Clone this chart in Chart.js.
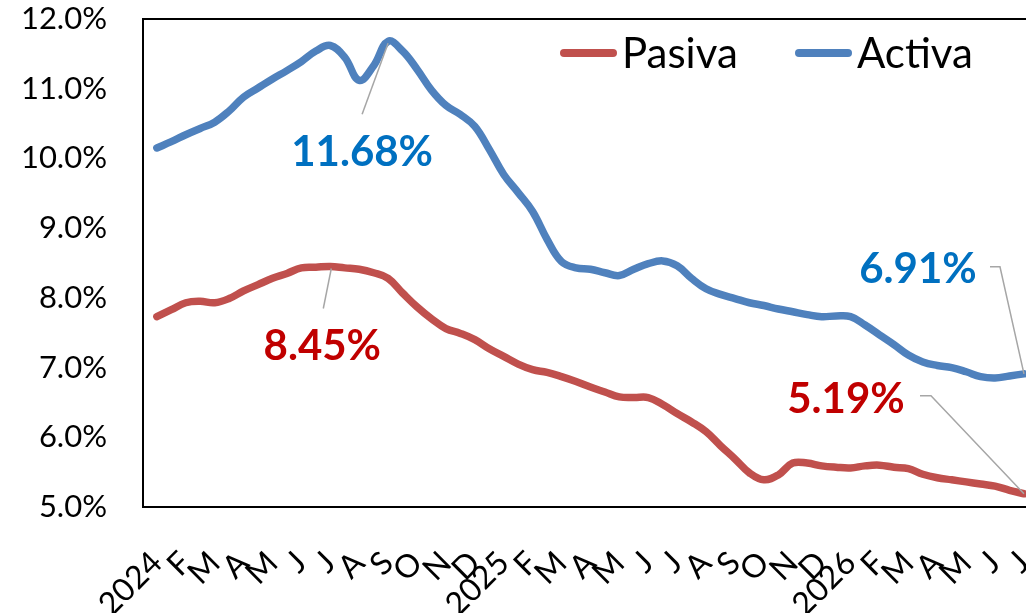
<!DOCTYPE html>
<html>
<head>
<meta charset="utf-8">
<script src="https://cdn.jsdelivr.net/npm/chart.js@4/dist/chart.umd.min.js"></script>
<style>
  html, body { margin: 0; padding: 0; background: #fff; }
  #wrap { width: 1026px; height: 613px; position: relative; overflow: hidden; }
</style>
</head>
<body>
<div id="wrap"><canvas id="tasasChart"></canvas></div>
<script>
// Etiquetas del eje X (una por mes)
const meses = [
  "2024", "F", "M", "A", "M", "J", "J", "A", "S", "O", "N", "D",
  "2025", "F", "M", "A", "M", "J", "J", "A", "S", "O", "N", "D",
  "2026", "F", "M", "A", "M", "J", "J",
];

// Tasas quincenales (%)
const pasiva = [
  7.73, 7.83, 7.93, 7.95, 7.93, 7.99, 8.1, 8.19, 8.28, 8.35, 8.43, 8.44,
  8.45, 8.43, 8.41, 8.36, 8.28, 8.07, 7.87, 7.7, 7.56, 7.49, 7.4, 7.27,
  7.16, 7.05, 6.97, 6.93, 6.87, 6.8, 6.72, 6.65, 6.58, 6.57, 6.57, 6.47,
  6.34, 6.22, 6.08, 5.88, 5.69, 5.49, 5.39, 5.46, 5.63, 5.63, 5.59, 5.57,
  5.56, 5.59, 5.6, 5.57, 5.55, 5.47, 5.42, 5.39, 5.36, 5.33, 5.3, 5.24,
  5.19,
];
const activa = [
  10.15, 10.24, 10.34, 10.43, 10.52, 10.68, 10.88, 11.01, 11.14, 11.26,
  11.39, 11.54, 11.62, 11.45, 11.12, 11.33, 11.68, 11.54, 11.28, 10.98,
  10.76, 10.63, 10.46, 10.13, 9.77, 9.51, 9.24, 8.84, 8.52, 8.43, 8.41,
  8.36, 8.32, 8.41, 8.49, 8.53, 8.46, 8.28, 8.13, 8.05, 7.99, 7.93, 7.89,
  7.84, 7.8, 7.76, 7.73, 7.74, 7.73, 7.61, 7.47, 7.33, 7.18, 7.08, 7.03,
  7.0, 6.94, 6.87, 6.85, 6.88, 6.91,
];

const ROJO = "#C0504D";
const AZUL = "#4F81BD";
const FUENTE = "Lato, 'Open Sans', sans-serif";

// cada dato es quincenal: el punto i cae en el mes i/2
const aPuntos = (serie) => serie.map((v, i) => ({ x: i / 2, y: v }));

// etiquetas de valor con su linea guia (desplazamientos respecto al punto)
const etiquetas = [
  { serie: 1, idx: 16, color: "#0070C0", dx: -26, dy: 111, guia: [[-26, 73], [0, 2]] },
  { serie: 0, idx: 12, color: "#C00000", dx: -8, dy: 80, guia: [[-7, 42], [1, 2]] },
  { serie: 1, idx: 60, color: "#0070C0", dx: -106, dy: -104, guia: [[-34, -107], [-24, -107], [0, 0]] },
  { serie: 0, idx: 60, color: "#C00000", dx: -178, dy: -94, guia: [[-104, -98], [-93, -98], [0, 0]] },
];

const extrasPlugin = {
  id: "extras",
  afterDraw(chart) {
    const { ctx, chartArea } = chart;
    ctx.save();

    // linea superior del marco
    ctx.strokeStyle = "#000";
    ctx.lineWidth = 2;
    ctx.beginPath();
    ctx.moveTo(chartArea.left - 1, chartArea.top);
    ctx.lineTo(chartArea.right + 2, chartArea.top);
    ctx.stroke();

    // leyenda
    const leyX = [560, 795];
    ctx.font = "42px " + FUENTE;
    ctx.textAlign = "left";
    ctx.textBaseline = "alphabetic";
    chart.data.datasets.forEach((ds, i) => {
      const x = leyX[i];
      const y = chartArea.top + 34;
      ctx.strokeStyle = ds.borderColor;
      ctx.lineWidth = 8;
      ctx.lineCap = "round";
      ctx.beginPath();
      ctx.moveTo(x + 4, y);
      ctx.lineTo(x + 53, y);
      ctx.stroke();
      ctx.fillStyle = "#000";
      ctx.fillText(ds.label, x + 62, y + 15);
    });

    // etiquetas de datos
    etiquetas.forEach((e) => {
      const pt = chart.getDatasetMeta(e.serie).data[e.idx];
      const valor = chart.data.datasets[e.serie].data[e.idx].y;
      ctx.strokeStyle = "#A6A6A6";
      ctx.lineWidth = 1.5;
      ctx.lineCap = "butt";
      ctx.beginPath();
      e.guia.forEach(([gx, gy], k) => {
        if (k === 0) ctx.moveTo(pt.x + gx, pt.y + gy);
        else ctx.lineTo(pt.x + gx, pt.y + gy);
      });
      ctx.stroke();
      ctx.font = "bold 42px " + FUENTE;
      ctx.fillStyle = e.color;
      ctx.textAlign = "center";
      ctx.textBaseline = "middle";
      ctx.fillText(valor.toFixed(2) + "%", pt.x + e.dx, pt.y + e.dy);
    });

    ctx.restore();
  },
};

const ctx = document.getElementById("tasasChart").getContext("2d");
const tasasChart = new Chart(ctx, {
  type: "line",
  data: {
    datasets: [
      {
        label: "Pasiva",
        data: aPuntos(pasiva),
        borderColor: ROJO,
        borderWidth: 7.5,
        tension: 0.4,
        borderCapStyle: "round",
        borderJoinStyle: "round",
        pointRadius: 0,
      },
      {
        label: "Activa",
        data: aPuntos(activa),
        borderColor: AZUL,
        borderWidth: 7.5,
        tension: 0.4,
        borderCapStyle: "round",
        borderJoinStyle: "round",
        pointRadius: 0,
      },
    ],
  },
  options: {
    responsive: true,
    maintainAspectRatio: false,
    animation: false,
    events: [],
    layout: { padding: { top: 19, left: 0, right: 0, bottom: 0 } },
    plugins: {
      legend: { display: false },
      tooltip: { enabled: false },
    },
    scales: {
      x: {
        type: "linear",
        min: -0.48,
        max: 30.07,
        grid: { display: false, drawTicks: false },
        border: { display: true, color: "#000", width: 2 },
        afterBuildTicks: (scale) => {
          scale.ticks = meses.map((_, i) => ({ value: i }));
        },
        afterFit: (scale) => {
          scale.height = 106;
          scale.paddingLeft = 0;
          scale.paddingRight = 0;
        },
        ticks: {
          autoSkip: false,
          minRotation: 45,
          maxRotation: 45,
          padding: 37,
          color: "#000",
          font: { family: FUENTE, size: 32 },
          callback: (v) => meses[Math.round(v)],
        },
      },
      y: {
        min: 5,
        max: 12,
        grid: { display: false, drawTicks: false },
        border: { display: true, color: "#000", width: 2 },
        afterFit: (scale) => {
          scale.width = 143;
          scale.paddingTop = 0;
          scale.paddingBottom = 0;
        },
        ticks: {
          stepSize: 1,
          padding: 36,
          color: "#000",
          font: { family: FUENTE, size: 31 },
          callback: (v) => v.toFixed(1) + "%",
        },
      },
    },
  },
  plugins: [extrasPlugin],
});
</script>
</body>
</html>
